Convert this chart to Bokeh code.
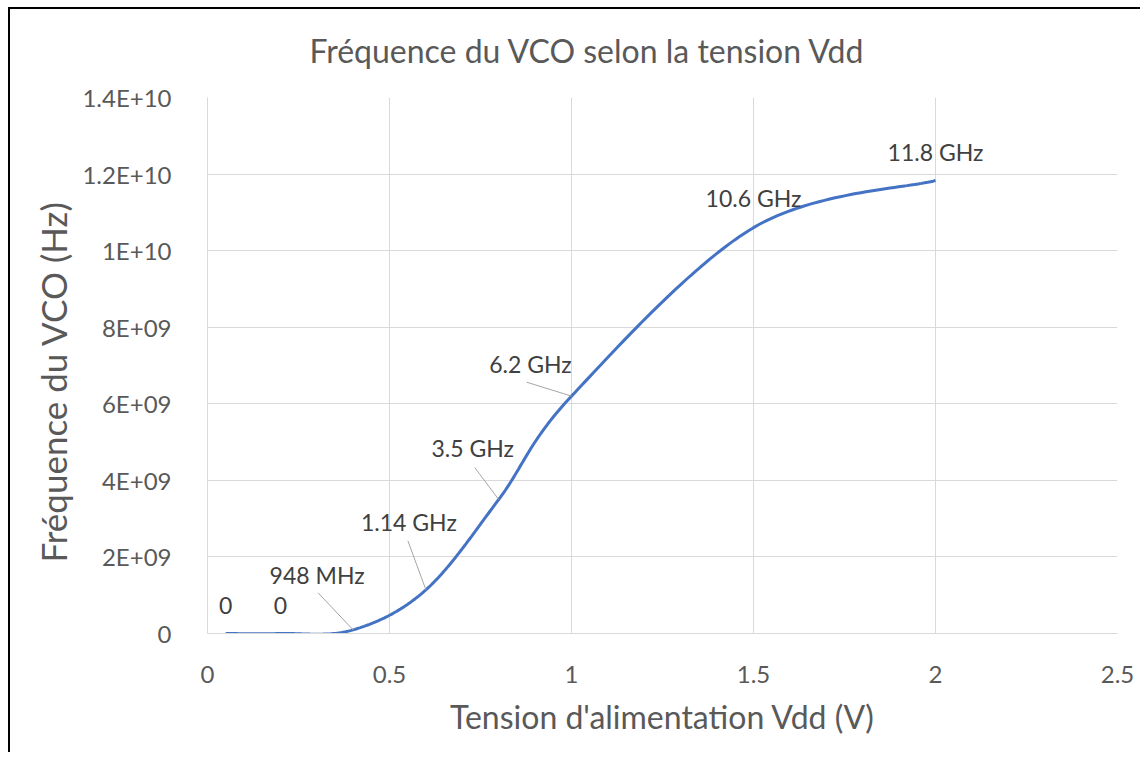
from bokeh.plotting import figure
from bokeh.models import Range1d, FixedTicker, CustomJSTickFormatter, ColumnDataSource, Title
from bokeh.core.properties import value
from bokeh.embed import file_html
from bokeh.resources import INLINE

# ---- data ----
vdd = [0.05, 0.2, 0.4, 0.6, 0.8, 1.0, 1.5, 2.0]
freq = [0.0, 0.0, 9.48e7, 1.14e9, 3.5e9, 6.2e9, 1.06e10, 1.183e10]
point_labels = ["0", "0", "948 MHz", "1.14 GHz", "3.5 GHz", "6.2 GHz", "10.6 GHz", "11.8 GHz"]
x_ticks = [0, 0.5, 1, 1.5, 2, 2.5]
y_ticks = [0, 2e9, 4e9, 6e9, 8e9, 1e10, 1.2e10, 1.4e10]

# ---- layout / style ----
W, H = 1140, 752
BL, BR, BT, BB = 207, 23, 97, 119
FW, FH = W - BL - BR, H - BT - BB
X0, X1 = 0, 2.5
Y0, Y1 = 0, 1.4e10
px_x = FW / (X1 - X0)
px_y = FH / (Y1 - Y0)
FONT = "Lato"
GREY = "#595959"
# label offsets (px: dx right, dy up) and leader line start offsets
label_off = [(0, 28), (0, 28), (-36, 55), (-17, 68), (-26, 52), (-41, 32), (0, 30), (0, 29)]
leader_off = [None, None, (-35, 37), (-18, 49), (-24, 32), (-45, 14), None, None]

# Excel-like smoothed curve (cubic Bezier through points)
def smooth(xs, ys, n=40):
    px, py = [], []
    m = len(xs)
    for i in range(m - 1):
        xa, ya = xs[i], ys[i]
        xb, yb = xs[i + 1], ys[i + 1]
        xp, yp = (xs[i - 1], ys[i - 1]) if i > 0 else (xa, ya)
        xn, yn = (xs[i + 2], ys[i + 2]) if i + 2 < m else (xb, yb)
        c1x, c1y = xa + (xb - xp) / 6, ya + (yb - yp) / 6
        c2x, c2y = xb - (xn - xa) / 6, yb - (yn - ya) / 6
        for k in range(n + (1 if i == m - 2 else 0)):
            t = k / n
            u = 1 - t
            px.append(u**3 * xa + 3 * u * u * t * c1x + 3 * u * t * t * c2x + t**3 * xb)
            py.append(u**3 * ya + 3 * u * u * t * c1y + 3 * u * t * t * c2y + t**3 * yb)
    return px, py

cx, cy = smooth(vdd, freq)

p = figure(width=W, height=H, output_backend="svg", toolbar_location=None,
           x_range=Range1d(X0, X1), y_range=Range1d(Y0, Y1),
           min_border_left=BL, min_border_right=BR, min_border_top=BT, min_border_bottom=BB)
p.outline_line_color = None
p.background_fill_color = "white"
p.border_fill_color = None

p.title = None
t = Title(text="Fréquence du VCO selon la tension Vdd", align="left", offset=102,
          text_font=FONT, text_font_size="32px", text_font_style="normal",
          text_color=GREY, standoff=56)
p.add_layout(t, "above")

for ax in (p.xaxis[0], p.yaxis[0]):
    ax.axis_line_color = "#d9d9d9"
    ax.major_tick_line_color = None
    ax.minor_tick_line_color = None
    ax.major_label_text_font = FONT
    ax.major_label_text_font_size = "24px"
    ax.major_label_text_color = GREY
    ax.axis_label_text_font = FONT
    ax.axis_label_text_font_size = "32px"
    ax.axis_label_text_font_style = "normal"
    ax.axis_label_text_color = GREY

p.xaxis.ticker = FixedTicker(ticks=x_ticks)
p.yaxis.ticker = FixedTicker(ticks=y_ticks)
p.xaxis.formatter = CustomJSTickFormatter(code="return tick.toString();")
p.yaxis.formatter = CustomJSTickFormatter(code="""
if (tick == 0) return "0";
const e = Math.floor(Math.log10(Math.abs(tick)) + 1e-9);
let m = Math.round(tick / Math.pow(10, e) * 100) / 100;
const es = (e < 10 ? "0" : "") + e;
return m + "E+" + es;
""")
p.xaxis.axis_label = "Tension d'alimentation Vdd (V)"
p.xaxis.major_label_standoff = 26
p.yaxis.major_label_standoff = 30
p.xaxis.axis_label_standoff = 11

ytitle = Title(text="Fréquence du VCO (Hz)", align="left", offset=71,
               text_font=FONT, text_font_size="35px", text_font_style="normal",
               text_color=GREY, standoff=11)
p.add_layout(ytitle, "left")

p.xgrid.grid_line_color = "#d9d9d9"
p.ygrid.grid_line_color = "#d9d9d9"
p.xgrid.grid_line_width = 1
p.ygrid.grid_line_width = 1

p.line(cx, cy, line_color="#4472C4", line_width=3)

# leader lines
lx0, ly0, lx1, ly1 = [], [], [], []
for xv, yv, lo in zip(vdd, freq, leader_off):
    if lo is None:
        continue
    lx0.append(xv + lo[0] / px_x)
    ly0.append(yv + lo[1] / px_y)
    lx1.append(xv)
    ly1.append(yv)
p.segment(lx0, ly0, lx1, ly1, line_color="#a6a6a6", line_width=1)

src = ColumnDataSource(dict(x=vdd, y=freq, text=point_labels,
                            dx=[o[0] for o in label_off], dy=[-o[1] for o in label_off]))
p.text(x="x", y="y", text="text", source=src, x_offset="dx", y_offset="dy",
       text_align="center", text_baseline="middle", text_font=value(FONT),
       text_font_size="23px", text_color="#404040")

p.styles = {"background-color": "white",
            "box-shadow": "inset 8px 7px 0 0 #fff, inset 10px 9px 0 0 #000, "
                          "inset 3px 5px 0 0 #fff, inset 5px 6px 0 0 #d9d9d9"}

open("out.html", "w").write(file_html(p, INLINE))
